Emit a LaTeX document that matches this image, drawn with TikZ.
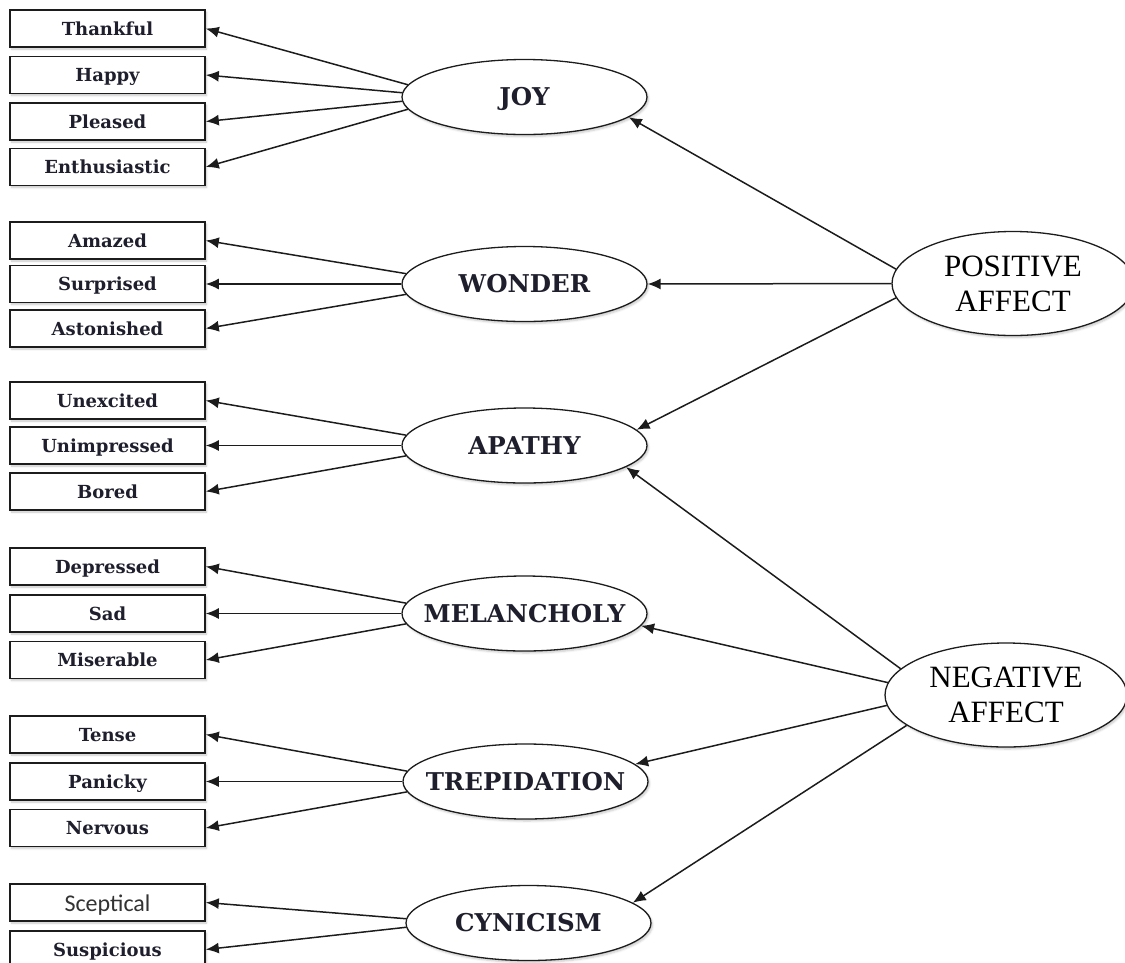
\documentclass[tikz,border=0pt]{standalone}
\usepackage{fontspec}
\setmainfont{DejaVu Serif}
\newfontfamily\timesfont{Liberation Serif}
\newfontfamily\calfont{Carlito}
\usetikzlibrary{arrows.meta,shapes.geometric,shadows.blur}

\definecolor{ink}{HTML}{1E1E2C}
\definecolor{edge}{HTML}{1C1C1C}

% factor names are set in a zero-width box so that every ellipse keeps its given size
\newcommand{\flabel}[1]{\makebox[0pt]{#1}}

\tikzset{
  soft/.style={blur shadow={shadow xshift=1.5pt, shadow yshift=-2pt,
      shadow opacity=22, shadow blur steps=5}},
  item/.style={draw=edge, line width=1.6pt, fill=white, soft,
      minimum width=195pt, minimum height=37pt, inner sep=0pt,
      text height=13pt, text depth=0pt, text=ink,
      font=\fontsize{18}{21}\selectfont\bfseries},
  plainitem/.style={item, text height=18pt, text=black!80,
      font=\calfont\fontsize{24}{28}\selectfont},
  factor/.style={ellipse, draw=edge, line width=1.3pt, fill=white, soft,
      minimum width=245pt, minimum height=75pt, inner sep=0pt,
      text height=17pt, text depth=0pt, text=ink,
      font=\fontsize{24.5}{28}\selectfont\bfseries},
  affect/.style={ellipse, draw=edge, line width=1.3pt, fill=white, soft,
      minimum width=242pt, minimum height=104pt, inner sep=0pt,
      align=center, text=black,
      font=\timesfont\fontsize{31}{35}\selectfont},
  link/.style={draw=edge, line width=1.5pt,
      -{Latex[length=13pt,width=11pt]}},
}

\begin{document}
\begin{tikzpicture}[x=1pt,y=-1pt]
\useasboundingbox (0,0) rectangle (1125,962);
\clip (0,0) rectangle (1125,962);

% indicator boxes
\node[item] (thankful)     at (107.5,28.5)  {Thankful};
\node[item] (happy)        at (107.5,75)    {Happy};
\node[item] (pleased)      at (107.5,121.5) {Pleased};
\node[item] (enthusiastic) at (107.5,167)   {Enthusiastic};

\node[item] (amazed)     at (107.5,240.5) {Amazed};
\node[item] (surprised)  at (107.5,284)   {Surprised};
\node[item] (astonished) at (107.5,328.5) {Astonished};

\node[item] (unexcited)   at (107.5,400.5) {Unexcited};
\node[item] (unimpressed) at (107.5,445.5) {Unimpressed};
\node[item] (bored)       at (107.5,491.5) {Bored};

\node[item] (depressed) at (107.5,566.5) {Depressed};
\node[item] (sad)       at (107.5,613.5) {Sad};
\node[item] (miserable) at (107.5,660)   {Miserable};

\node[item] (tense)   at (107.5,734.5) {Tense};
\node[item] (panicky) at (107.5,781.5) {Panicky};
\node[item] (nervous) at (107.5,828)   {Nervous};

\node[plainitem] (sceptical) at (107.5,902.5) {Sceptical};
\node[item]      (suspicious) at (107.5,949.5) {Suspicious};

% first-order factors
\node[factor] (joy)         at (524.5,97)    {\flabel{JOY}};
\node[factor] (wonder)      at (524.5,284)   {\flabel{WONDER}};
\node[factor] (apathy)      at (524.5,445.5) {\flabel{APATHY}};
\node[factor] (melancholy)  at (524.5,613.5) {\flabel{MELANCHOLY}};
\node[factor] (trepidation) at (525.5,781.5) {\flabel{TREPIDATION}};
\node[factor] (cynicism)    at (528.5,923)   {\flabel{CYNICISM}};

% second-order factors
\node[affect] (pos) at (1013,283.5) {POSITIVE\\AFFECT};
\node[affect] (neg) at (1006,695)   {NEGATIVE\\AFFECT};

% loadings of the first-order factors
\draw[link] (joy.174.5) -- (thankful.east);
\draw[link] (joy.178.5) -- (happy.east);
\draw[link] (joy.182.5) -- (pleased.east);
\draw[link] (joy.186.5) -- (enthusiastic.east);

\draw[link] (wonder.175) -- (amazed.east);
\draw[link] (wonder.west) -- (surprised.east);
\draw[link] (wonder.185) -- (astonished.east);

\draw[link] (apathy.175) -- (unexcited.east);
\draw[link] (apathy.west) -- (unimpressed.east);
\draw[link] (apathy.185) -- (bored.east);

\draw[link] (melancholy.175) -- (depressed.east);
\draw[link] (melancholy.west) -- (sad.east);
\draw[link] (melancholy.185) -- (miserable.east);

\draw[link] (trepidation.175) -- (tense.east);
\draw[link] (trepidation.west) -- (panicky.east);
\draw[link] (trepidation.185) -- (nervous.east);

\draw[link] (cynicism.178.5) -- (sceptical.east);
\draw[link] (cynicism.182.5) -- (suspicious.east);

% loadings of the second-order factors
\draw[link] (pos.173.6) -- (joy.-11);
\draw[link] (pos.west) -- (wonder.east);
\draw[link] (pos.-173.3) -- (apathy.8);

\draw[link] (neg.166) -- (apathy.-12);
\draw[link] (neg.174) -- (melancholy.-6);
\draw[link] (neg.185) -- (trepidation.9);
\draw[link] (neg.197) -- (cynicism.11);
\end{tikzpicture}
\end{document}
